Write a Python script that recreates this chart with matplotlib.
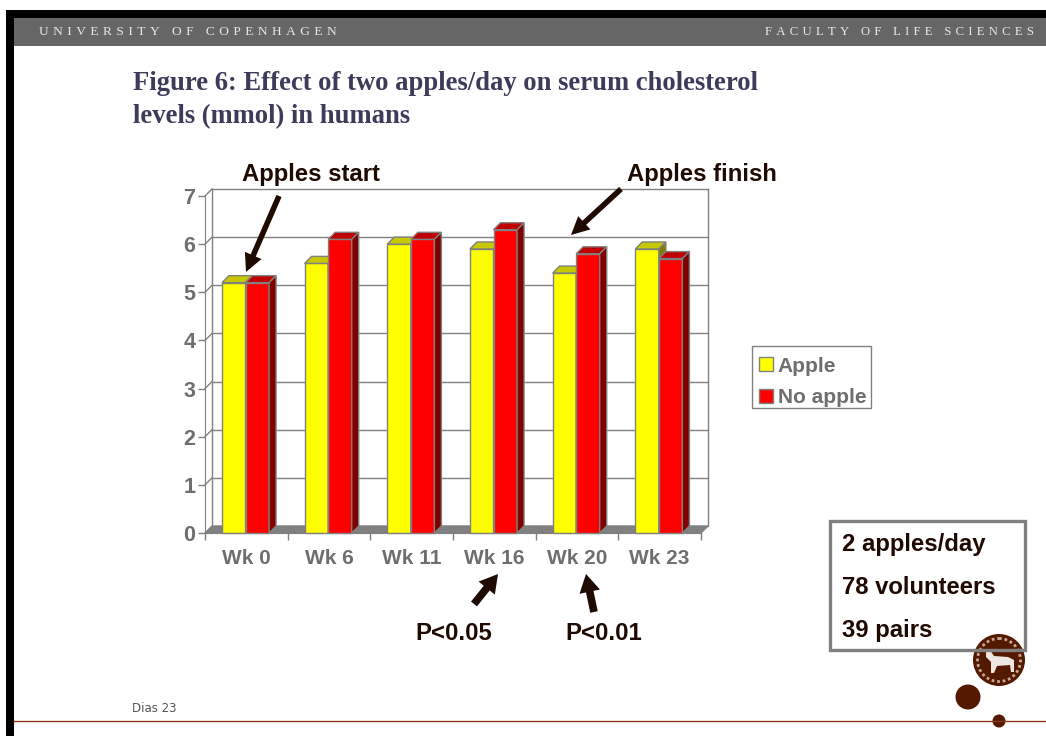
import matplotlib
matplotlib.use('Agg')
import matplotlib.pyplot as plt
from matplotlib.patches import Polygon, Rectangle, Circle
import numpy as np

weeks = ['Wk 0', 'Wk 6', 'Wk 11', 'Wk 16', 'Wk 20', 'Wk 23']
apple = [5.2, 5.6, 6.0, 5.9, 5.4, 5.9]
no_apple = [5.2, 6.1, 6.1, 6.3, 5.8, 5.7]
y_ticks = [0, 1, 2, 3, 4, 5, 6, 7]

W, H = 1046, 736
sans = 'Liberation Sans'
serif = 'Liberation Serif'
dark = '#1e0a00'
grey = '#808080'
lab_grey = '#6e6e6e'
brown = '#541a00'

fig = plt.figure(figsize=(W / 100, H / 100), dpi=100)
fig.patch.set_facecolor('white')

# chart axes sit on the front plane of the fake 3d box
ax = fig.add_axes([205 / W, (H - 533) / H, 496 / W, 337 / H])
ax.set_xlim(0, 6)
ax.set_ylim(0, 7)
ax.patch.set_visible(False)
dx = 7 / 496 * 6  # depth of the box in data units
dy = 7 / 337 * 7

# back wall, side wall, floor
for v in y_ticks[1:]:
    ax.plot([dx, 6 + dx], [v + dy, v + dy], color=grey, lw=1, clip_on=False, zorder=1)
    ax.plot([0, dx], [v, v + dy], color=grey, lw=1, clip_on=False, zorder=1)
ax.plot([dx, dx], [dy, 7 + dy], color=grey, lw=1, clip_on=False, zorder=1)
ax.plot([6 + dx, 6 + dx], [dy, 7 + dy], color=grey, lw=1, clip_on=False, zorder=1)
ax.add_patch(Polygon([(0, 0), (6, 0), (6 + dx, dy), (dx, dy)], facecolor=grey, edgecolor=grey, clip_on=False, zorder=1))

x = np.arange(len(weeks)) + 0.49
bw = 0.285


def bars3d(xs, vals, front, top, side, z):
    out = ax.bar(xs, vals, bw, color=front, edgecolor=grey, lw=1, zorder=z, clip_on=False)
    for xi, v in zip(xs, vals):
        l, r = xi - bw / 2, xi + bw / 2
        ax.add_patch(Polygon([(l, v), (r, v), (r + dx, v + dy), (l + dx, v + dy)], facecolor=top, edgecolor=grey, lw=1, zorder=z, clip_on=False))
        ax.add_patch(Polygon([(r, 0), (r + dx, dy), (r + dx, v + dy), (r, v)], facecolor=side, edgecolor=grey, lw=1, zorder=z, clip_on=False))
    return out


b1 = bars3d(x - bw / 2, apple, '#ffff00', '#c8c800', '#808000', 2)
b2 = bars3d(x + bw / 2, no_apple, '#ff0000', '#c00000', '#800000', 3)

for s in ['top', 'right']:
    ax.spines[s].set_visible(False)
for s in ['left', 'bottom']:
    ax.spines[s].set_color(grey)
ax.set_yticks(y_ticks)
ax.set_xticks(range(7))
ax.set_xticklabels([])
ax.tick_params(axis='both', color=grey, length=5, width=1)
ax.tick_params(axis='y', labelsize=15.5, labelcolor=lab_grey, pad=2)
for lab in ax.get_yticklabels():
    lab.set_fontfamily(sans)
    lab.set_fontweight('bold')
for xi, w in zip(x + 0.01, weeks):
    ax.annotate(w, (xi, 0), xytext=(0, -18.5), textcoords='offset points', ha='center', va='center',
                fontsize=15, fontweight='bold', family=sans, color=lab_grey)

leg = ax.legend([b1, b2], ['Apple', 'No apple'], loc='upper left', bbox_to_anchor=(759 / W, 1 - 356.5 / H),
                bbox_transform=fig.transFigure, frameon=False,
                prop={'family': sans, 'weight': 'bold', 'size': 15}, labelcolor=lab_grey,
                handlelength=0.65, handleheight=0.65, handletextpad=0.25, borderpad=0, labelspacing=0.6,
                borderaxespad=0)

# slide decoration in pixel coordinates
ov = fig.add_axes([0, 0, 1, 1], zorder=5)
ov.set_xlim(0, W)
ov.set_ylim(H, 0)
ov.axis('off')
ov.patch.set_visible(False)

ov.add_patch(Rectangle((752, 346), 119, 62, facecolor='none', edgecolor=grey, lw=1))

ov.add_patch(Rectangle((6, 10), W, 8, color='black', lw=0))
ov.add_patch(Rectangle((6, 10), 8, H, color='black', lw=0))
ov.add_patch(Rectangle((14, 18), W, 28, color='#666666', lw=0))
ov.text(39, 32, '\u2004'.join('UNIVERSITY OF COPENHAGEN'), family=serif, fontsize=9.6, color='#e8e8e8', va='center')
ov.text(1034, 32, '\u2004'.join('FACULTY OF LIFE SCIENCES'), family=serif, fontsize=9.2, color='#e8e8e8', va='center', ha='right')

ov.text(133, 84, 'Figure 6: Effect of two apples/day on serum cholesterol', family=serif, fontweight='bold',
        fontsize=19.2, color='#3c3c5a', va='center')
ov.text(133, 117, 'levels (mmol) in humans', family=serif, fontweight='bold', fontsize=19.2, color='#3c3c5a', va='center')

ov.text(242, 174, 'Apples start', family=sans, fontweight='bold', fontsize=17.2, color=dark, va='center')
ov.text(627, 174, 'Apples finish', family=sans, fontweight='bold', fontsize=17.2, color=dark, va='center')
ov.text(454, 633, 'P<0.05', family=sans, fontweight='bold', fontsize=17.2, color=dark, va='center', ha='center')
ov.text(604, 633, 'P<0.01', family=sans, fontweight='bold', fontsize=17.2, color=dark, va='center', ha='center')

arrows = [((279, 196), (246, 272), 4, 13), ((621, 189), (571, 235), 4, 13),
          ((474, 604), (498, 574), 5.5, 15), ((594, 612), (586, 574), 5.5, 15)]
for start, tip, wd, hw in arrows:
    ov.annotate('', xy=tip, xytext=start,
                arrowprops=dict(facecolor=dark, edgecolor=dark, width=wd, headwidth=hw, headlength=13, shrink=0, lw=0))

# seal
ov.add_patch(Circle((999, 660), 26, color=brown, lw=0))
ov.add_patch(Circle((999, 660), 21.5, facecolor='none', edgecolor='#c8a898', lw=2, ls=(0, (1, 1))))
ov.add_patch(Polygon([(986, 652), (990, 650), (994, 656), (1008, 657), (1014, 660), (1014, 672), (1011, 672),
                      (1010, 665), (997, 666), (994, 673), (991, 673), (991, 662), (986, 657)], color='#eee6e0', lw=0))
ov.add_patch(Circle((968, 697), 12.5, color=brown, lw=0))
ov.plot([14, W], [721, 721], color='#8b3a1e', lw=1)
ov.add_patch(Circle((999, 721), 6.5, color=brown, lw=0))
ov.text(132, 708, 'Dias 23', family='DejaVu Sans', fontsize=8.5, color='#555555', va='center')

ov.add_patch(Rectangle((830, 521), 195, 129, facecolor='none', edgecolor=grey, lw=2.4))
for yy, t in zip([545, 587, 630], ['2 apples/day', '78 volunteers', '39 pairs']):
    ov.text(842, yy, t, family=sans, fontweight='bold', fontsize=17.2, color=dark, va='center')

fig.savefig('out.png', dpi=100)
